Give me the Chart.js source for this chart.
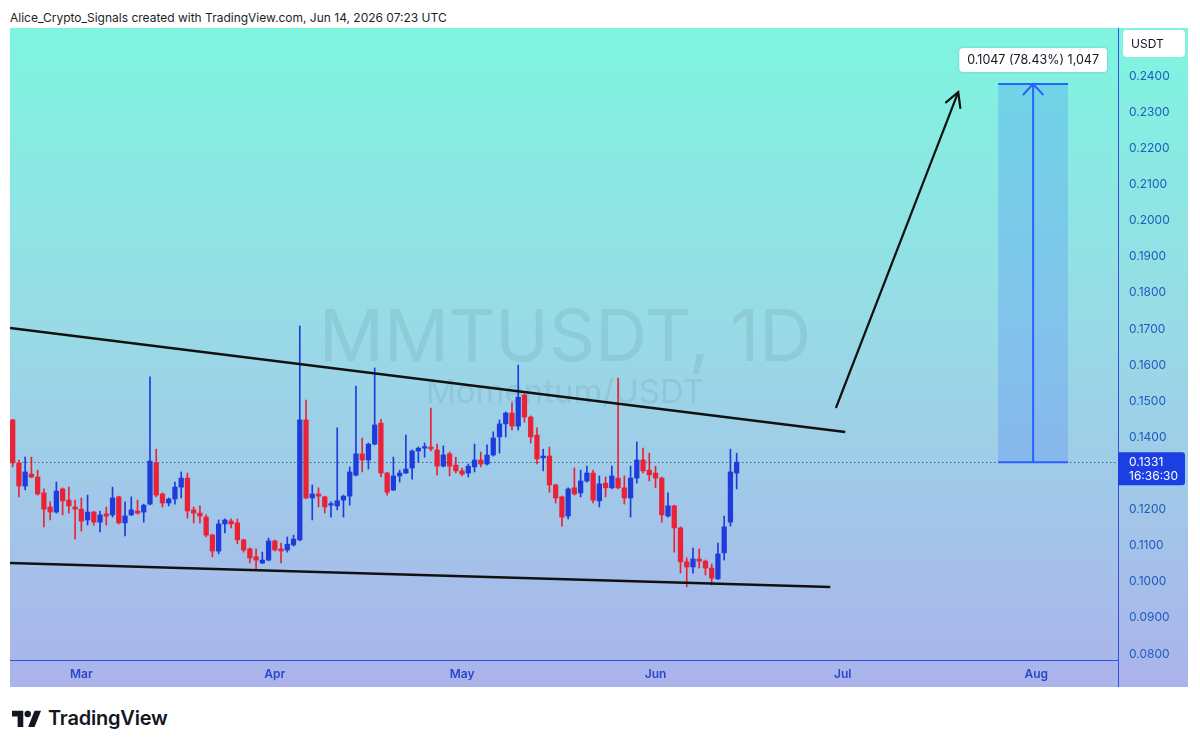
<!DOCTYPE html>
<html>
<head>
<meta charset="utf-8">
<title>MMTUSDT, 1D</title>
<script src="https://cdn.jsdelivr.net/npm/chart.js@4.4.0/dist/chart.umd.min.js"></script>
<style>
  html, body { margin: 0; padding: 0; background: #fff; width: 1200px; height: 747px; overflow: hidden;
               font-family: Inter, "Noto Sans", sans-serif; }
  #hdr  { position: absolute; left: 10px; top: 10px; font-size: 12px; color: #1e1e1e; white-space: nowrap; }
  #wrap { position: absolute; left: 10px; top: 28px; width: 1178px; height: 659px; }
  #logo { position: absolute; left: 12px; top: 706px; display: flex; align-items: center; gap: 7px;
          font-size: 20px; font-weight: 600; color: #131722; letter-spacing: -0.2px; }
</style>
</head>
<body>
<div id="hdr">Alice_Crypto_Signals created with TradingView.com, Jun 14, 2026 07:23 UTC</div>
<div id="wrap"><canvas id="grafica"></canvas></div>
<div id="logo">
  <svg width="29" height="17" viewBox="0 0 36 21"><path d="M14 21H7V8H0V1h14z M28 1h8l-8 20h-8z" fill="#131722"/><circle cx="19.5" cy="5" r="4" fill="#131722"/></svg>
  <span>TradingView</span>
</div>

<script>
'use strict';

// ---- datos: velas diarias MMTUSDT, 18 feb -> 14 jun (indice = dias desde 18 feb)
const OPEN = [
  0.1448, 0.1329, 0.1265, 0.1298, 0.1290, 0.1246, 0.1207, 0.1193, 0.1257, 0.1226,
  0.1207, 0.1201, 0.1171, 0.1193, 0.1165, 0.1188, 0.1185, 0.1235, 0.1163, 0.1185,
  0.1196, 0.1193, 0.1215, 0.1329, 0.1243, 0.1218, 0.1229, 0.1262, 0.1287, 0.1199,
  0.1190, 0.1179, 0.1129, 0.1085, 0.1160, 0.1168, 0.1163, 0.1116, 0.1091, 0.1069,
  0.1052, 0.1060, 0.1113, 0.1091, 0.1088, 0.1102, 0.1116, 0.1448, 0.1232, 0.1243,
  0.1235, 0.1212, 0.1210, 0.1226, 0.1237, 0.1295, 0.1354, 0.1337, 0.1381, 0.1439,
  0.1301, 0.1254, 0.1293, 0.1301, 0.1315, 0.1362, 0.1370, 0.1373, 0.1365, 0.1320,
  0.1354, 0.1323, 0.1307, 0.1301, 0.1318, 0.1337, 0.1326, 0.1351, 0.1401, 0.1437,
  0.1467, 0.1431, 0.1517, 0.1456, 0.1406, 0.1343, 0.1348, 0.1268, 0.1235, 0.1182,
  0.1260, 0.1246, 0.1279, 0.1301, 0.1224, 0.1273, 0.1260, 0.1287, 0.1260, 0.1232,
  0.1287, 0.1337, 0.1309, 0.1301, 0.1287, 0.1182, 0.1210, 0.1149, 0.1055, 0.1041,
  0.1063, 0.1057, 0.1038, 0.1008, 0.1080, 0.1165, 0.1301
];
const HIGH = [
  0.1450, 0.1337, 0.1345, 0.1345, 0.1309, 0.1257, 0.1221, 0.1276, 0.1260, 0.1262,
  0.1226, 0.1232, 0.1240, 0.1195, 0.1196, 0.1207, 0.1262, 0.1237, 0.1221, 0.1235,
  0.1226, 0.1215, 0.1567, 0.1367, 0.1246, 0.1232, 0.1276, 0.1304, 0.1301, 0.1207,
  0.1210, 0.1185, 0.1132, 0.1171, 0.1174, 0.1174, 0.1174, 0.1118, 0.1094, 0.1091,
  0.1082, 0.1121, 0.1116, 0.1107, 0.1124, 0.1129, 0.1708, 0.1503, 0.1268, 0.1260,
  0.1237, 0.1221, 0.1426, 0.1240, 0.1318, 0.1542, 0.1398, 0.1384, 0.1592, 0.1450,
  0.1303, 0.1345, 0.1309, 0.1406, 0.1365, 0.1373, 0.1384, 0.1481, 0.1381, 0.1376,
  0.1359, 0.1345, 0.1315, 0.1326, 0.1381, 0.1359, 0.1379, 0.1415, 0.1448, 0.1470,
  0.1495, 0.1600, 0.1520, 0.1459, 0.1426, 0.1367, 0.1373, 0.1270, 0.1237, 0.1260,
  0.1315, 0.1309, 0.1320, 0.1309, 0.1293, 0.1290, 0.1320, 0.1564, 0.1293, 0.1320,
  0.1387, 0.1370, 0.1356, 0.1320, 0.1290, 0.1246, 0.1212, 0.1152, 0.1066, 0.1093,
  0.1091, 0.1060, 0.1049, 0.1107, 0.1182, 0.1367, 0.1356
];
const LOW = [
  0.1318, 0.1235, 0.1254, 0.1288, 0.1240, 0.1152, 0.1171, 0.1190, 0.1185, 0.1190,
  0.1118, 0.1140, 0.1157, 0.1157, 0.1138, 0.1157, 0.1179, 0.1160, 0.1127, 0.1183,
  0.1187, 0.1165, 0.1213, 0.1235, 0.1207, 0.1210, 0.1215, 0.1232, 0.1176, 0.1163,
  0.1163, 0.1124, 0.1069, 0.1077, 0.1135, 0.1149, 0.1105, 0.1082, 0.1052, 0.1035,
  0.1050, 0.1058, 0.1085, 0.1052, 0.1082, 0.1099, 0.1113, 0.1229, 0.1171, 0.1207,
  0.1190, 0.1179, 0.1199, 0.1179, 0.1212, 0.1293, 0.1304, 0.1312, 0.1379, 0.1290,
  0.1240, 0.1252, 0.1276, 0.1299, 0.1284, 0.1331, 0.1345, 0.1362, 0.1295, 0.1318,
  0.1293, 0.1301, 0.1293, 0.1290, 0.1304, 0.1318, 0.1323, 0.1348, 0.1356, 0.1401,
  0.1420, 0.1420, 0.1442, 0.1384, 0.1326, 0.1307, 0.1248, 0.1218, 0.1154, 0.1174,
  0.1240, 0.1235, 0.1276, 0.1218, 0.1207, 0.1235, 0.1257, 0.1257, 0.1215, 0.1179,
  0.1273, 0.1301, 0.1279, 0.1260, 0.1165, 0.1179, 0.1082, 0.1024, 0.0986, 0.1024,
  0.1038, 0.1019, 0.0991, 0.1006, 0.1060, 0.1154, 0.1257
];
const CLOSE = [
  0.1329, 0.1265, 0.1304, 0.1290, 0.1243, 0.1201, 0.1193, 0.1251, 0.1224, 0.1210,
  0.1201, 0.1168, 0.1193, 0.1165, 0.1185, 0.1182, 0.1232, 0.1163, 0.1182, 0.1199,
  0.1190, 0.1212, 0.1334, 0.1240, 0.1218, 0.1229, 0.1262, 0.1287, 0.1196, 0.1190,
  0.1182, 0.1129, 0.1085, 0.1160, 0.1171, 0.1160, 0.1116, 0.1088, 0.1066, 0.1060,
  0.1060, 0.1113, 0.1088, 0.1085, 0.1104, 0.1118, 0.1448, 0.1232, 0.1243, 0.1237,
  0.1207, 0.1215, 0.1224, 0.1237, 0.1304, 0.1354, 0.1337, 0.1381, 0.1434, 0.1301,
  0.1248, 0.1293, 0.1301, 0.1312, 0.1362, 0.1370, 0.1373, 0.1368, 0.1320, 0.1351,
  0.1320, 0.1307, 0.1298, 0.1320, 0.1337, 0.1326, 0.1351, 0.1398, 0.1437, 0.1467,
  0.1431, 0.1511, 0.1456, 0.1401, 0.1340, 0.1348, 0.1268, 0.1232, 0.1179, 0.1257,
  0.1243, 0.1279, 0.1301, 0.1226, 0.1271, 0.1260, 0.1293, 0.1260, 0.1232, 0.1287,
  0.1337, 0.1307, 0.1296, 0.1287, 0.1185, 0.1210, 0.1149, 0.1055, 0.1041, 0.1063,
  0.1057, 0.1038, 0.1010, 0.1077, 0.1152, 0.1304, 0.1331
];

// ejes
const MONTH_DAYS   = [11, 42, 72, 103, 133, 164];
const MONTH_LABELS = ['Mar', 'Apr', 'May', 'Jun', 'Jul', 'Aug'];
const PRICE_TICKS  = [0.08, 0.09, 0.10, 0.11, 0.12, 0.13, 0.14, 0.15, 0.16, 0.17, 0.18, 0.19, 0.20, 0.21, 0.22, 0.23, 0.24];
const X_RANGE = [-0.43, 177.1];
const Y_RANGE = [0.07834, 0.2533];

// dibujos (dia, precio)
const TREND_UPPER = [[-0.43, 0.17024], [133.4, 0.14145]];
const TREND_LOWER = [[-0.43, 0.10519], [131.0, 0.09855]];
const ARROW_UP    = [[131.9, 0.14810], [151.5, 0.23557]];
const MEASURE_DAYS  = [157.9, 169.1];
const MEASURE_PRICE = [0.1331, 0.2378];
const MEASURE_TEXT  = '0.1047 (78.43%) 1,047';
const COUNTDOWN = '16:36:30';

const RED  = '#ea2236';
const BLUE = '#1e3bdc';
const AXIS_BLUE = '#3450d6';
const TICK_BLUE = '#1f5bbf';

const colores = OPEN.map((o, i) => CLOSE[i] < o ? RED : BLUE);
const wicks  = OPEN.map((o, i) => ({ x: i, y: [LOW[i], HIGH[i]] }));
const bodies = OPEN.map((o, i) => ({ x: i, y: [Math.min(o, CLOSE[i]), Math.max(o, CLOSE[i])] }));
const pts = arr => arr.map(p => ({ x: p[0], y: p[1] }));

function flecha(ctx, x1, y1, x2, y2, len, ang) {
  const a = Math.atan2(y2 - y1, x2 - x1);
  ctx.beginPath();
  ctx.moveTo(x2 - len * Math.cos(a - ang), y2 - len * Math.sin(a - ang));
  ctx.lineTo(x2, y2);
  ctx.lineTo(x2 - len * Math.cos(a + ang), y2 - len * Math.sin(a + ang));
  ctx.stroke();
}

function rrect(ctx, x, y, w, h, r) {
  ctx.beginPath();
  ctx.roundRect(x, y, w, h, r);
}

// sin relleno extra alrededor del area del grafico
function sinPadding(s) {
  s.paddingTop = 0; s.paddingBottom = 0; s.paddingLeft = 0; s.paddingRight = 0;
}

const dibujos = {
  id: 'dibujos',
  beforeDraw(chart) {
    const { ctx, width, height } = chart;
    const g = ctx.createLinearGradient(0, 0, 0, height);
    g.addColorStop(0, '#7ef5df');
    g.addColorStop(0.45, '#98dbe6');
    g.addColorStop(1, '#abb3eb');
    ctx.save();
    ctx.fillStyle = g;
    ctx.fillRect(0, 0, width, height);
    ctx.restore();
  },
  beforeDatasetsDraw(chart) {
    const { ctx, chartArea: a, scales: { x, y } } = chart;
    ctx.save();
    // marca de agua
    const cx = (a.left + a.right) / 2 + 1;
    ctx.fillStyle = 'rgba(70, 110, 130, 0.13)';
    ctx.textAlign = 'center';
    ctx.textBaseline = 'alphabetic';
    ctx.font = '400 72px Inter, "Noto Sans", sans-serif';
    ctx.fillText('MMTUSDT, 1D', cx, 333);
    ctx.font = '400 33px Inter, "Noto Sans", sans-serif';
    ctx.fillText('Momentum/USDT', cx, 375);

    // caja de medicion
    const mx1 = x.getPixelForValue(MEASURE_DAYS[0]);
    const mx2 = x.getPixelForValue(MEASURE_DAYS[1]);
    const my1 = y.getPixelForValue(MEASURE_PRICE[0]);
    const my2 = y.getPixelForValue(MEASURE_PRICE[1]);
    ctx.fillStyle = 'rgba(41, 98, 255, 0.2)';
    ctx.fillRect(mx1, my2, mx2 - mx1, my1 - my2);

    // linea de precio punteada
    const py = Math.round(y.getPixelForValue(CLOSE[CLOSE.length - 1])) + 0.5;
    ctx.strokeStyle = '#3d5f8c';
    ctx.lineWidth = 1;
    ctx.setLineDash([1.5, 2.5]);
    ctx.beginPath();
    ctx.moveTo(a.left, py);
    ctx.lineTo(a.right, py);
    ctx.stroke();
    ctx.restore();
  },
  afterDatasetsDraw(chart) {
    const { ctx, scales: { x, y } } = chart;
    ctx.save();
    // punta de la flecha negra
    ctx.strokeStyle = '#111';
    ctx.lineWidth = 2.2;
    ctx.lineCap = 'round';
    flecha(ctx,
      x.getPixelForValue(ARROW_UP[0][0]), y.getPixelForValue(ARROW_UP[0][1]),
      x.getPixelForValue(ARROW_UP[1][0]), y.getPixelForValue(ARROW_UP[1][1]), 16, 0.5);

    // medicion
    const mx1 = x.getPixelForValue(MEASURE_DAYS[0]);
    const mx2 = x.getPixelForValue(MEASURE_DAYS[1]);
    const mxc = (mx1 + mx2) / 2;
    const my1 = y.getPixelForValue(MEASURE_PRICE[0]);
    const my2 = y.getPixelForValue(MEASURE_PRICE[1]);
    ctx.strokeStyle = '#2962ff';
    ctx.lineWidth = 2;
    ctx.lineCap = 'butt';
    ctx.beginPath();
    ctx.moveTo(mx1, my1); ctx.lineTo(mx2, my1);
    ctx.moveTo(mx1, my2); ctx.lineTo(mx2, my2);
    ctx.moveTo(mxc, my1); ctx.lineTo(mxc, my2);
    ctx.stroke();
    flecha(ctx, mxc, my1, mxc, my2, 15, 0.75);

    // etiqueta de medicion
    ctx.font = '12.5px Inter, "Noto Sans", sans-serif';
    const tw = ctx.measureText(MEASURE_TEXT).width;
    const bw = tw + 16, bh = 24;
    ctx.shadowColor = 'rgba(0,0,0,0.18)';
    ctx.shadowBlur = 3;
    ctx.fillStyle = '#fff';
    rrect(ctx, mxc - bw / 2, my2 - 36, bw, bh, 4);
    ctx.fill();
    ctx.shadowBlur = 0;
    ctx.fillStyle = '#131722';
    ctx.textAlign = 'center';
    ctx.textBaseline = 'middle';
    ctx.fillText(MEASURE_TEXT, mxc, my2 - 36 + bh / 2 + 0.5);
    ctx.restore();
  },
  afterDraw(chart) {
    const { ctx, chartArea: a, scales: { y }, height } = chart;
    ctx.save();
    // lineas de ejes
    ctx.strokeStyle = AXIS_BLUE;
    ctx.lineWidth = 1;
    ctx.beginPath();
    ctx.moveTo(Math.round(a.right) + 0.5, 0);
    ctx.lineTo(Math.round(a.right) + 0.5, height);
    ctx.moveTo(0, Math.round(a.bottom) + 0.5);
    ctx.lineTo(a.right, Math.round(a.bottom) + 0.5);
    ctx.stroke();

    // caja USDT
    ctx.fillStyle = '#fff';
    rrect(ctx, a.right + 5, 2, 62, 27, 4);
    ctx.fill();
    ctx.fillStyle = '#131722';
    ctx.font = '12px Inter, "Noto Sans", sans-serif';
    ctx.textAlign = 'left';
    ctx.textBaseline = 'middle';
    ctx.fillText('USDT', a.right + 13, 16);

    // etiqueta de ultimo precio
    const last = CLOSE[CLOSE.length - 1];
    const py = y.getPixelForValue(last);
    ctx.fillStyle = '#1b3fe3';
    rrect(ctx, a.right, py - 10, 67, 33, [0, 3, 3, 0]);
    ctx.fill();
    ctx.fillStyle = '#fff';
    ctx.font = '12px Inter, "Noto Sans", sans-serif';
    ctx.fillText(last.toFixed(4), a.right + 11, py);
    ctx.fillText(COUNTDOWN, a.right + 11, py + 14);
    ctx.restore();
  }
};

new Chart(document.getElementById('grafica').getContext('2d'), {
  type: 'bar',
  data: {
    datasets: [
      { type: 'line', data: pts(TREND_UPPER), borderColor: '#111', borderWidth: 2.5, pointRadius: 0, order: 0 },
      { type: 'line', data: pts(TREND_LOWER), borderColor: '#111', borderWidth: 2.5, pointRadius: 0, order: 0 },
      { type: 'line', data: pts(ARROW_UP), borderColor: '#111', borderWidth: 2.2, pointRadius: 0, order: 0 },
      { label: 'cuerpos', data: bodies, backgroundColor: colores, barThickness: 4.6, minBarLength: 1.5,
        grouped: false, order: 1 },
      { label: 'mechas', data: wicks, backgroundColor: colores, barThickness: 1, grouped: false, order: 2 }
    ]
  },
  options: {
    responsive: true,
    maintainAspectRatio: false,
    animation: false,
    layout: { padding: 0 },
    plugins: { legend: { display: false }, tooltip: { enabled: false } },
    scales: {
      x: {
        type: 'linear', offset: false, min: X_RANGE[0], max: X_RANGE[1],
        grid: { display: false, offset: false, drawTicks: false },
        border: { display: false },
        afterBuildTicks: s => { s.ticks = MONTH_DAYS.map(v => ({ value: v })); },
        afterFit: s => { s.height = 27; sinPadding(s); },
        ticks: {
          autoSkip: false, maxRotation: 0, padding: 7, color: '#2a46cc',
          font: { family: 'Inter, "Noto Sans", sans-serif', size: 12, weight: '600' },
          callback: v => MONTH_LABELS[MONTH_DAYS.indexOf(v)] || ''
        }
      },
      y: {
        type: 'linear', position: 'right', min: Y_RANGE[0], max: Y_RANGE[1],
        grid: { display: false, drawTicks: false },
        border: { display: false },
        afterBuildTicks: s => { s.ticks = PRICE_TICKS.map(v => ({ value: v })); },
        afterFit: s => { s.width = 70; sinPadding(s); },
        ticks: {
          autoSkip: false, padding: 11, color: TICK_BLUE,
          font: { family: 'Inter, "Noto Sans", sans-serif', size: 12 },
          callback: v => v.toFixed(4)
        }
      }
    }
  },
  plugins: [dibujos]
});
</script>
</body>
</html>
